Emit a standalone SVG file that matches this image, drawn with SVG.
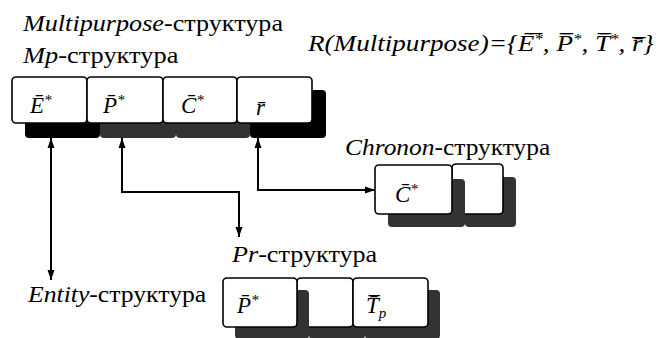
<svg xmlns="http://www.w3.org/2000/svg" width="661" height="338" viewBox="0 0 661 338">
<defs>
<marker id="ah" viewBox="0 0 10 10" refX="10" refY="5" markerWidth="10" markerHeight="10" markerUnits="userSpaceOnUse" orient="auto-start-reverse">
<path d="M0,1.5 L10,5 L0,8.5 z" fill="#000"/>
</marker>
</defs>
<rect width="661" height="338" fill="#fff"/>

<text style="font-family:'Liberation Serif',serif;font-size:24px" transform="translate(23,31) scale(1.09,1)"><tspan style="font-style:italic">Multipurpose</tspan>-структура</text>
<text style="font-family:'Liberation Serif',serif;font-size:24px" transform="translate(23,63) scale(1.1,1)"><tspan style="font-style:italic">Mp</tspan>-структура</text>
<text style="font-family:'Liberation Serif',serif;font-size:24px;font-style:italic" transform="translate(308,51) scale(1.13,1)">R(Multipurpose)={Ē̅<tspan style="font-size:15px" dy="-7">*</tspan><tspan dy="7">, P̄̅</tspan><tspan style="font-size:15px" dy="-7">*</tspan><tspan dy="7">, T̄̅</tspan><tspan style="font-size:15px" dy="-7">*</tspan><tspan dy="7">, r̄̅}</tspan></text>

<g id="mp-structure">
<g fill="#000"><rect x="25" y="90" width="75" height="48" rx="4"/><rect x="250" y="90" width="76" height="48" rx="4"/></g>
<g fill="#333"><rect x="100" y="90" width="76" height="48" rx="4"/><rect x="176" y="90" width="74" height="48" rx="4"/></g>
<g fill="#fff" stroke="#000" stroke-width="1.6">
<rect x="12" y="77" width="75" height="46" rx="4"/>
<rect x="87" y="77" width="76" height="46" rx="4"/>
<rect x="163" y="77" width="74" height="46" rx="4"/>
<rect x="237" y="77" width="75" height="46" rx="4"/>
</g>
<text style="font-family:'Liberation Serif',serif;font-size:23px;font-style:italic" x="30" y="113">Ē<tspan style="font-size:15px" dy="-8">*</tspan></text>
<text style="font-family:'Liberation Serif',serif;font-size:23px;font-style:italic" x="103" y="113">P̄<tspan style="font-size:15px" dy="-8">*</tspan></text>
<text style="font-family:'Liberation Serif',serif;font-size:23px;font-style:italic" x="181" y="113">C̄<tspan style="font-size:15px" dy="-8">*</tspan></text>
<text style="font-family:'Liberation Serif',serif;font-size:23px;font-style:italic" x="256" y="115">r̄</text>
</g>

<g id="chronon-structure">
<text style="font-family:'Liberation Serif',serif;font-size:24px" transform="translate(345,155) scale(1.06,1)"><tspan style="font-style:italic">Chronon</tspan>-структура</text>
<rect fill="#333" x="465" y="177" width="51" height="50" rx="4"/>
<rect fill="#fff" stroke="#000" stroke-width="1.6" x="452" y="164" width="51" height="50" rx="4"/>
<rect fill="#333" x="388" y="179" width="77" height="48" rx="4"/>
<rect fill="#fff" stroke="#000" stroke-width="1.6" x="375" y="165" width="77" height="49" rx="4"/>
<text style="font-family:'Liberation Serif',serif;font-size:23px;font-style:italic" x="395" y="202">C̄<tspan style="font-size:15px" dy="-8">*</tspan></text>
</g>

<g id="pr-structure">
<text style="font-family:'Liberation Serif',serif;font-size:24px" transform="translate(232,262) scale(1.09,1)"><tspan style="font-style:italic">Pr</tspan>-структура</text>
<rect fill="#333" x="309" y="290" width="56" height="49" rx="4"/>
<rect fill="#fff" stroke="#000" stroke-width="1.6" x="297" y="278" width="56" height="49" rx="4"/>
<rect fill="#333" x="365" y="290" width="75" height="49" rx="4"/>
<rect fill="#fff" stroke="#000" stroke-width="1.6" x="353" y="278" width="75" height="49" rx="4"/>
<rect fill="#333" x="235" y="290" width="74" height="49" rx="4"/>
<rect fill="#fff" stroke="#000" stroke-width="1.6" x="223" y="278" width="74" height="49" rx="4"/>
<text style="font-family:'Liberation Serif',serif;font-size:23px;font-style:italic" x="237" y="313">P̄<tspan style="font-size:15px" dy="-8">*</tspan></text>
<text style="font-family:'Liberation Serif',serif;font-size:23px;font-style:italic" x="366" y="313">T̄̅<tspan style="font-size:15px" dy="5">p</tspan></text>
</g>

<g id="entity-structure">
<text style="font-family:'Liberation Serif',serif;font-size:24px" transform="translate(28,302) scale(1.07,1)"><tspan style="font-style:italic">Entity</tspan>-структура</text>
</g>

<g id="connectors" fill="none" stroke="#000" stroke-width="2">
<path d="M51,138 V280" marker-start="url(#ah)" marker-end="url(#ah)"/>
<path d="M122,138 V192 H239 V237" marker-start="url(#ah)" marker-end="url(#ah)"/>
<path d="M258,138 V190 H375" marker-start="url(#ah)" marker-end="url(#ah)"/>
</g>
</svg>
